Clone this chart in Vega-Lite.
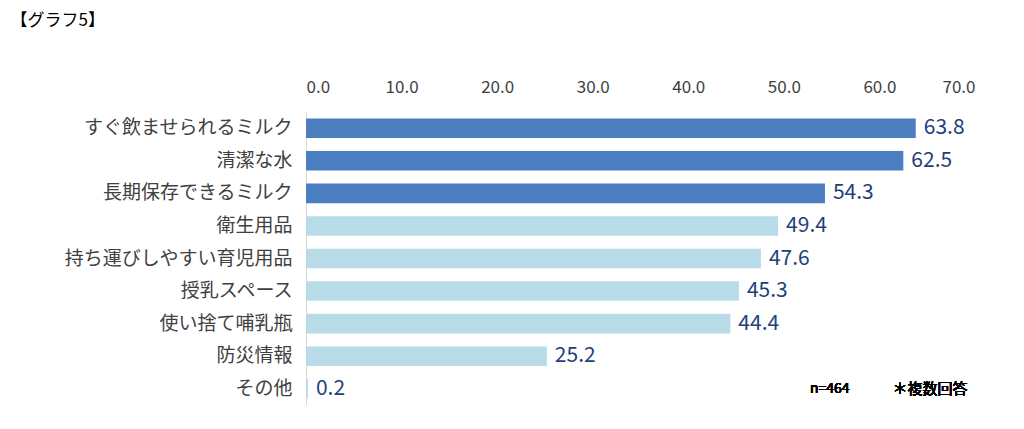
{
  "$schema": "https://vega.github.io/schema/vega-lite/v6.json",
  "width": 669,
  "height": 293,
  "autosize": "none",
  "padding": {"left": 306, "top": 112, "right": 49, "bottom": 24},
  "background": "white",
  "config": {"view": {"stroke": null}, "font": "Noto Sans CJK JP"},
  "title": {"text": "災害時の授乳準備としてあったら安心なもの", "anchor": "middle", "frame": "group", "dx": -150, "offset": 36, "fontSize": 20, "fontWeight": "normal", "color": "#404040"},
  "data": {"values": [
    {"item": "すぐ飲ませられるミルク", "v": 63.8, "g": "a"},
    {"item": "清潔な水", "v": 62.5, "g": "a"},
    {"item": "長期保存できるミルク", "v": 54.3, "g": "a"},
    {"item": "衛生用品", "v": 49.4, "g": "b"},
    {"item": "持ち運びしやすい育児用品", "v": 47.6, "g": "b"},
    {"item": "授乳スペース", "v": 45.3, "g": "b"},
    {"item": "使い捨て哺乳瓶", "v": 44.4, "g": "b"},
    {"item": "防災情報", "v": 25.2, "g": "b"},
    {"item": "その他", "v": 0.2, "g": "b"}
  ]},
  "encoding": {
    "y": {"field": "item", "type": "nominal", "sort": null,
      "scale": {"paddingInner": 0.4, "paddingOuter": 0.2},
      "axis": {"title": "【グラフ5】", "titleAngle": 0, "titleAlign": "left", "titleBaseline": "top", "titleX": -296, "titleY": -100, "titleFontSize": 17, "titleFontWeight": "normal", "titleColor": "#000000",
        "labelFontSize": 19, "labelLimit": 320, "labelColor": "#404040", "labelPadding": 14, "ticks": false, "domain": true, "domainColor": "#d9d9d9"}}
  },
  "layer": [
    {"mark": {"type": "bar"},
     "encoding": {
       "x": {"field": "v", "type": "quantitative", "scale": {"domain": [0, 70]},
         "axis": {"orient": "top", "values": [0,10,20,30,40,50,60,70], "format": ".1f", "title": null, "grid": false, "domain": false, "ticks": false, "labelFontSize": 17, "labelColor": "#404040", "labelPadding": 16}},
       "color": {"field": "g", "type": "nominal", "scale": {"domain": ["a", "b"], "range": ["#4a7ec0", "#b7dce8"]}, "legend": null}
     }},
    {"mark": {"type": "text", "align": "left", "dx": 8, "fontSize": 21, "color": "#1f3f7a"},
     "encoding": {
       "x": {"field": "v", "type": "quantitative"},
       "text": {"field": "v", "type": "quantitative", "format": ".1f"}
     }},
    {"mark": {"type": "text", "fontSize": 14, "fontWeight": "normal", "color": "#000000"},
     "encoding": {"x": {"datum": 54.8}, "y": {"datum": "その他"}, "text": {"value": "n=464"}}},
    {"mark": {"type": "text", "fontSize": 15, "fontWeight": "normal", "color": "#000000"},
     "encoding": {"x": {"datum": 65.3}, "y": {"datum": "その他"}, "text": {"value": "＊複数回答"}}}
  ]
}
